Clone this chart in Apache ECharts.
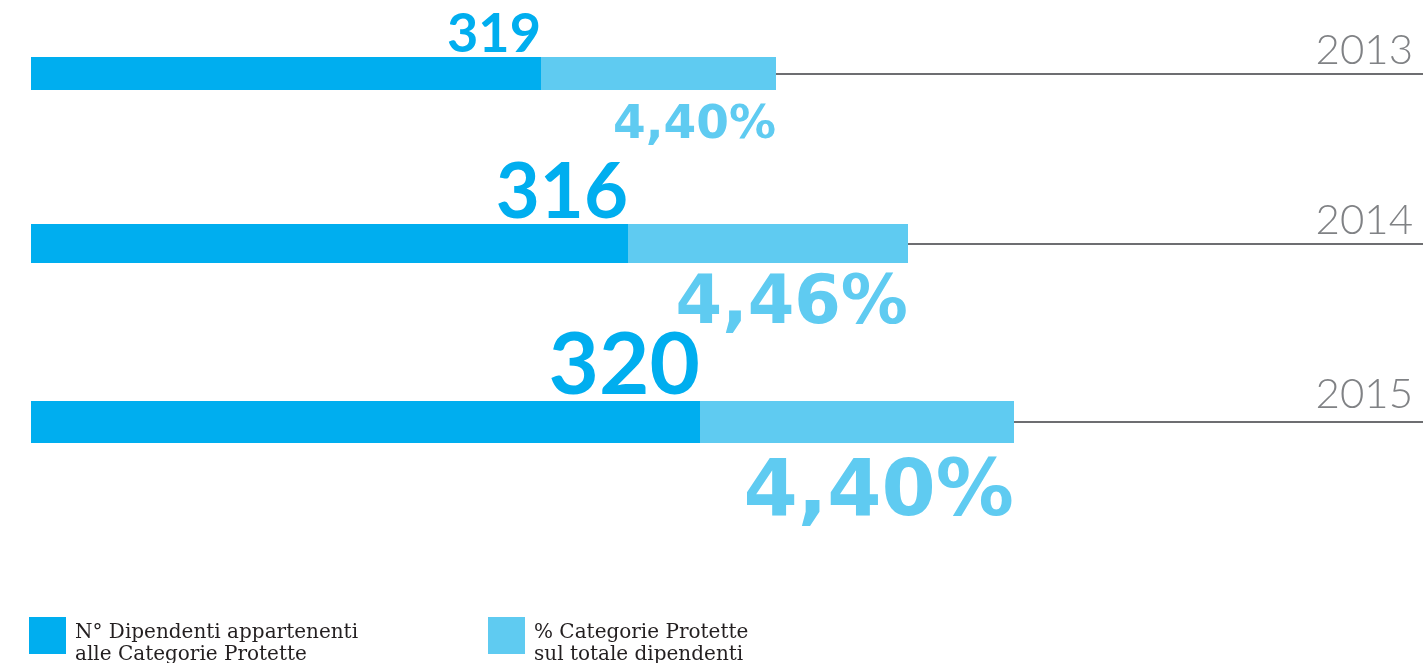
<!DOCTYPE html>
<html>
<head>
<meta charset="utf-8">
<script src="https://cdn.jsdelivr.net/npm/echarts@6/dist/echarts.min.js"></script>
<style>
html,body{margin:0;padding:0;background:#fff;}
#c{width:1423px;height:663px;}
</style>
</head>
<body>
<div id="c"></div>
<script>
// ---- DATA ----
const anni = ['2013', '2014', '2015'];
const dipendenti = [319, 316, 320];
const percentuali = [4.40, 4.46, 4.40];
// graphic lengths of the two segments, as drawn in the infographic (drawing units)
const barraScura = [510, 597, 669];
const barraChiara = [235, 280, 314];
const scalaMax = 1392;
const nomiSerie = ['N° Dipendenti appartenenti alle Categorie Protette', '% Categorie Protette sul totale dipendenti'];
const righeLegenda = [['N° Dipendenti appartenenti', 'alle Categorie Protette'], ['% Categorie Protette', 'sul totale dipendenti']];

// ---- LAYOUT / STYLE ----
const rows = [
  { top: 57, h: 33, numFs: 54, numOff: 5, pctFs: 47, pctOff: 12, yearFs: 42, yearGap: 2 },
  { top: 224, h: 39, numFs: 76, numOff: 7, pctFs: 67, pctOff: 9, yearFs: 42, yearGap: 2 },
  { top: 401, h: 42, numFs: 87, numOff: 8, pctFs: 78, pctOff: 13, yearFs: 42, yearGap: 7 }
];
const C_DARK = '#00AEEF', C_LIGHT = '#5FCBF1', C_LINE = '#6D6E71', C_YEAR = '#808285';

const fmtPct = v => v.toFixed(2).replace('.', ',') + '%';

const grids = [], xAxes = [], yAxes = [], series = [];
anni.forEach((anno, i) => {
  const r = rows[i];
  grids.push({ left: 31, right: 0, top: r.top, height: r.h });
  xAxes.push({ type: 'value', gridIndex: i, min: 0, max: scalaMax, show: false });
  yAxes.push({ type: 'category', gridIndex: i, data: [anno], show: false });
  series.push({
    name: nomiSerie[0], type: 'bar', stack: 's' + i, xAxisIndex: i, yAxisIndex: i,
    barCategoryGap: 0, data: [barraScura[i]],
    itemStyle: { color: C_DARK }, z: 3,
    label: {
      show: true, position: ['100%', 0], align: 'right', verticalAlign: 'bottom',
      offset: [0, r.numOff],
      formatter: () => String(dipendenti[i]),
      color: C_DARK, fontFamily: 'Lato', fontWeight: 'bold', fontSize: r.numFs, lineHeight: r.numFs
    },
    silent: true
  });
  series.push({
    name: nomiSerie[1], type: 'bar', stack: 's' + i, xAxisIndex: i, yAxisIndex: i,
    barCategoryGap: 0, data: [barraChiara[i]],
    itemStyle: { color: C_LIGHT }, z: 3,
    label: {
      show: true, position: ['100%', '100%'], align: 'right', verticalAlign: 'top',
      offset: [0, r.pctOff],
      formatter: () => fmtPct(percentuali[i]),
      color: C_LIGHT, fontFamily: 'DejaVu Sans', fontWeight: 'bold', fontSize: r.pctFs, lineHeight: r.pctFs
    },
    markLine: {
      silent: true, symbol: 'none',
      lineStyle: { color: C_LINE, width: 2, type: 'solid' },
      label: {
        show: true, position: 'insideEndTop', distance: [10, r.yearGap],
        formatter: () => anno,
        color: C_YEAR, fontFamily: 'Lato', fontWeight: 300, fontSize: r.yearFs
      },
      data: [[{ coord: [barraScura[i] + barraChiara[i], 0] }, { coord: [scalaMax, 0] }]]
    },
    silent: true
  });
});

const legendText = {
  fontFamily: 'DejaVu Serif', fontSize: 20, lineHeight: 22, color: '#231F20', padding: [0, 0, 0, 4],
  rich: {
    s: { fontSize: 10, lineHeight: 17 },
    t: { fontFamily: 'DejaVu Serif', fontSize: 20, lineHeight: 22, color: '#231F20' }
  }
};
const fmtLegend = k => '{s| }\n{t|' + righeLegenda[k][0] + '}\n{t|' + righeLegenda[k][1] + '}';
const chart = echarts.init(document.getElementById('c'));
chart.setOption({
  animation: false,
  grid: grids, xAxis: xAxes, yAxis: yAxes, series: series,
  legend: [
    { left: 29, top: 605, padding: 0, itemWidth: 37, itemHeight: 37, icon: 'rect', data: [nomiSerie[0]],
      formatter: () => fmtLegend(0), textStyle: legendText, selectedMode: false },
    { left: 488, top: 605, padding: 0, itemWidth: 37, itemHeight: 37, icon: 'rect', data: [nomiSerie[1]],
      formatter: () => fmtLegend(1), textStyle: legendText, selectedMode: false }
  ]
});
</script>
</body>
</html>
